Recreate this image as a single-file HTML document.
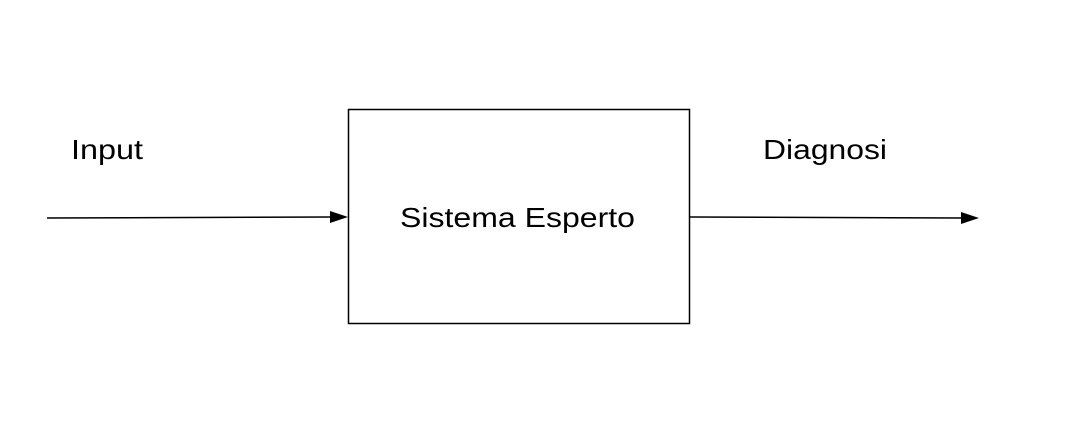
<!DOCTYPE html>
<html><head><style>
html,body{margin:0;padding:0;background:#fff;}
svg{display:block;}
</style></head><body>
<svg width="1090" height="422" xmlns="http://www.w3.org/2000/svg">
<rect x="348.5" y="109.5" width="341" height="214" fill="none" stroke="#000" stroke-width="1.5"/>
<line x1="47" y1="218" x2="332" y2="217" stroke="#000" stroke-width="1.5"/>
<polygon points="348,217 330,211 330,223" fill="#000"/>
<line x1="690" y1="217" x2="962" y2="218" stroke="#000" stroke-width="1.5"/>
<polygon points="979,218 961,212 961,224" fill="#000"/>
<g font-family="Liberation Sans, sans-serif" font-size="28" fill="#000">
<text x="71" y="159" textLength="72" lengthAdjust="spacingAndGlyphs">Input</text>
<text x="763" y="159" textLength="124" lengthAdjust="spacingAndGlyphs">Diagnosi</text>
<text x="400" y="227" textLength="235" lengthAdjust="spacingAndGlyphs">Sistema Esperto</text>
</g>
</svg>
</body></html>
